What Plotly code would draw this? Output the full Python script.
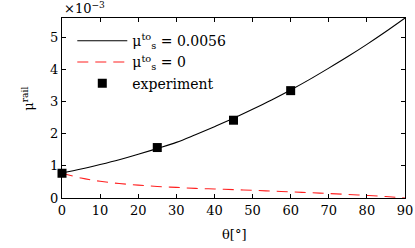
import plotly.graph_objects as go

theta_line = [0, 5, 10, 15, 20, 25, 30, 35, 40, 45, 50, 55, 60, 65, 70, 75, 80, 85, 90]
mu_solid = [0.78, 0.90, 1.04, 1.19, 1.36, 1.54, 1.73, 1.97, 2.22, 2.48, 2.76, 3.05, 3.36, 3.69, 4.04, 4.40, 4.78, 5.18, 5.60]
mu_dashed = [0.78, 0.62, 0.52, 0.45, 0.40, 0.36, 0.33, 0.30, 0.28, 0.26, 0.24, 0.215, 0.19, 0.165, 0.14, 0.11, 0.08, 0.045, 0.0]
theta_exp = [0, 25, 45, 60]
mu_exp = [0.77, 1.57, 2.42, 3.34]

x_ticks = [0, 10, 20, 30, 40, 50, 60, 70, 80, 90]
y_ticks = [0, 1, 2, 3, 4, 5]

FONT = "DejaVu Serif"
FS = 13

fig = go.Figure()
fig.add_trace(go.Scatter(x=theta_line, y=mu_solid, mode="lines", line=dict(color="black", width=1.1, shape="spline"),
                         name="μ<sup>to</sup><sub>s</sub> = 0.0056"))
fig.add_trace(go.Scatter(x=theta_line, y=mu_dashed, mode="lines", line=dict(color="#ff2020", width=1.1, dash="11px,7px", shape="spline"),
                         name="μ<sup>to</sup><sub>s</sub> = 0"))
fig.add_trace(go.Scatter(x=theta_exp, y=mu_exp, mode="markers", marker=dict(symbol="square", size=9, color="black"),
                         name="experiment", cliponaxis=False))

axis_common = dict(showline=True, linecolor="black", linewidth=1.2, mirror="ticks", ticks="inside",
                   ticklen=4, tickcolor="black", showgrid=False, zeroline=False, automargin=False,
                   tickfont=dict(family=FONT, size=FS, color="black"))

fig.update_layout(
    width=415, height=248,
    margin=dict(l=62, r=10, t=18, b=50),
    paper_bgcolor="white", plot_bgcolor="white",
    font=dict(family=FONT, size=FS, color="black"),
    showlegend=True,
    legend=dict(x=0.03, y=0.96, xanchor="left", yanchor="top", bgcolor="rgba(0,0,0,0)",
                font=dict(family=FONT, size=14, color="black"), tracegroupgap=0, itemwidth=50),
    xaxis=dict(range=[0, 90], tickvals=x_ticks, **axis_common),
    yaxis=dict(range=[0, 5.6], tickvals=y_ticks, **axis_common),
    annotations=[
        dict(text="×10<sup>−3</sup>", xref="paper", yref="paper", x=0, y=1, xanchor="left", yanchor="bottom",
             showarrow=False, font=dict(family=FONT, size=FS, color="black")),
        dict(text="θ[°]", xref="paper", yref="paper", x=0.5, y=-0.2, xanchor="center", yanchor="middle",
             showarrow=False, font=dict(family=FONT, size=FS, color="black")),
        dict(text="μ<sup>rail</sup>", xref="paper", yref="paper", x=-0.1, y=0.55, xanchor="center", yanchor="middle",
             textangle=-90, showarrow=False, font=dict(family=FONT, size=FS, color="black")),
    ],
)

fig.write_html("out.html", config={"displayModeBar": False},
               post_script="document.body.style.margin='0px';document.body.style.padding='0px';")
